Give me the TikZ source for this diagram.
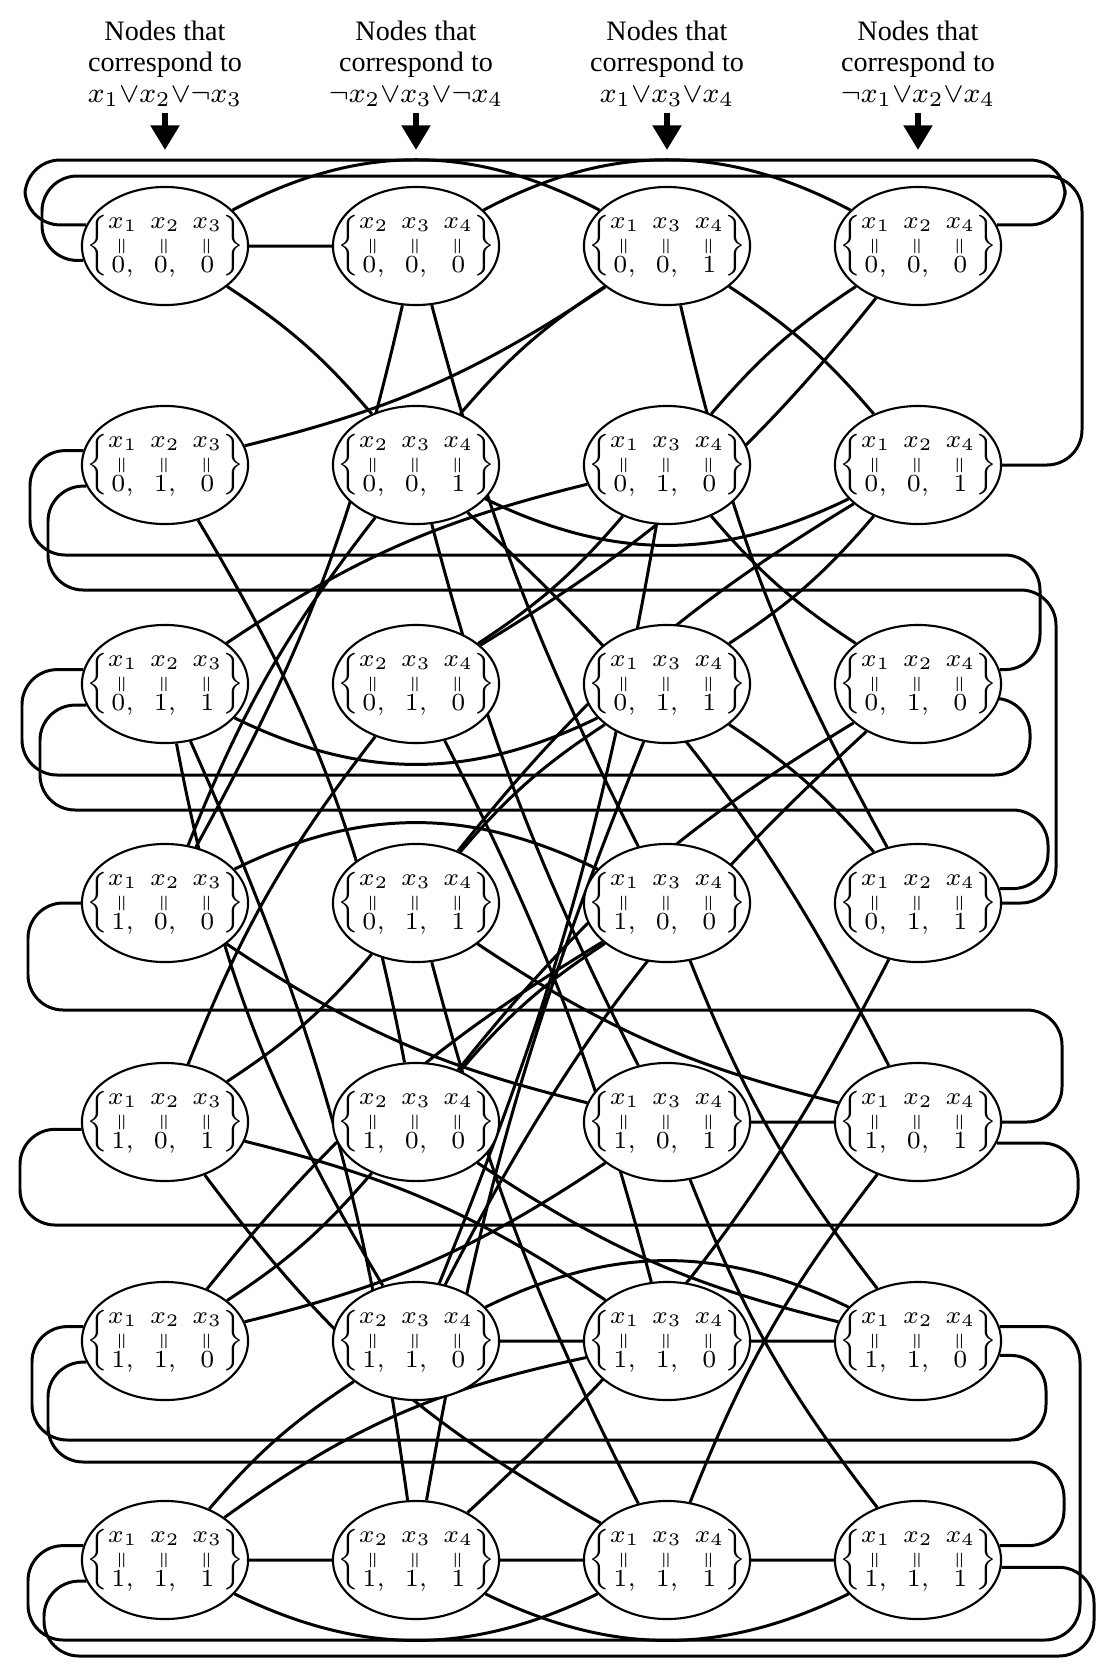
\documentclass[tikz,border=0pt]{standalone}
\usepackage{fontspec}
\setmainfont{Liberation Serif}
\usepackage{amsmath}
\usepackage{amssymb}
\usepackage{tikz}
\usetikzlibrary{shapes.geometric, arrows.meta, positioning, backgrounds}
\tikzstyle{val}     = [ellipse, draw, line width=0.6pt, fill=white,
                       minimum width=1.66cm, minimum height=1.18cm,
                       inner xsep=-0.25cm, inner ysep=0pt,
                       font=\fontsize{7.2}{8}\selectfont]
\tikzstyle{head}    = [align=center, inner sep=0pt, font=\fontsize{8}{8.8}\selectfont]
\tikzstyle{pointer} = [-{Triangle[width=8pt,length=7pt]}, line width=1.5pt]
\tikzstyle{link}    = [line width=0.85pt]
\tikzstyle{route}   = [link, rounded corners=10pt]
\newcommand{\iseq}{\rotatebox[origin=c]{90}{$\scriptstyle=$}}
\newcommand{\asg}[6]{$\renewcommand{\arraystretch}{0.78}\left\{\begin{array}{@{}c@{\hspace{3.6pt}}c@{\hspace{3.6pt}}c@{}}
  x_{#1} & x_{#2} & x_{#3}\\ \iseq & \iseq & \iseq\\ #4, & #5, & #6\end{array}\right\}$}

\begin{document}
\begin{tikzpicture}[x=0.01cm, y=0.01cm]
  \useasboundingbox (0,0) rectangle (1101,-1669);

  %% column x1 x2 x3
  \node[val] (a000) at (165,-246)  {\asg{1}{2}{3}{0}{0}{0}};
  \node[val] (a010) at (165,-465)  {\asg{1}{2}{3}{0}{1}{0}};
  \node[val] (a011) at (165,-684)  {\asg{1}{2}{3}{0}{1}{1}};
  \node[val] (a100) at (165,-903)  {\asg{1}{2}{3}{1}{0}{0}};
  \node[val] (a101) at (165,-1122) {\asg{1}{2}{3}{1}{0}{1}};
  \node[val] (a110) at (165,-1341) {\asg{1}{2}{3}{1}{1}{0}};
  \node[val] (a111) at (165,-1560) {\asg{1}{2}{3}{1}{1}{1}};

  %% column x2 x3 x4
  \node[val] (b000) at (416,-246)  {\asg{2}{3}{4}{0}{0}{0}};
  \node[val] (b001) at (416,-465)  {\asg{2}{3}{4}{0}{0}{1}};
  \node[val] (b010) at (416,-684)  {\asg{2}{3}{4}{0}{1}{0}};
  \node[val] (b011) at (416,-903)  {\asg{2}{3}{4}{0}{1}{1}};
  \node[val] (b100) at (416,-1122) {\asg{2}{3}{4}{1}{0}{0}};
  \node[val] (b110) at (416,-1341) {\asg{2}{3}{4}{1}{1}{0}};
  \node[val] (b111) at (416,-1560) {\asg{2}{3}{4}{1}{1}{1}};

  %% column x1 x3 x4
  \node[val] (c001) at (667,-246)  {\asg{1}{3}{4}{0}{0}{1}};
  \node[val] (c010) at (667,-465)  {\asg{1}{3}{4}{0}{1}{0}};
  \node[val] (c011) at (667,-684)  {\asg{1}{3}{4}{0}{1}{1}};
  \node[val] (c100) at (667,-903)  {\asg{1}{3}{4}{1}{0}{0}};
  \node[val] (c101) at (667,-1122) {\asg{1}{3}{4}{1}{0}{1}};
  \node[val] (c110) at (667,-1341) {\asg{1}{3}{4}{1}{1}{0}};
  \node[val] (c111) at (667,-1560) {\asg{1}{3}{4}{1}{1}{1}};

  %% column x1 x2 x4
  \node[val] (d000) at (918,-246)  {\asg{1}{2}{4}{0}{0}{0}};
  \node[val] (d001) at (918,-465)  {\asg{1}{2}{4}{0}{0}{1}};
  \node[val] (d010) at (918,-684)  {\asg{1}{2}{4}{0}{1}{0}};
  \node[val] (d011) at (918,-903)  {\asg{1}{2}{4}{0}{1}{1}};
  \node[val] (d101) at (918,-1122) {\asg{1}{2}{4}{1}{0}{1}};
  \node[val] (d110) at (918,-1341) {\asg{1}{2}{4}{1}{1}{0}};
  \node[val] (d111) at (918,-1560) {\asg{1}{2}{4}{1}{1}{1}};

  %% clause headings
  \node[head, above=0.79cm of a000] (ha) {Nodes that\\correspond to\\$x_1{\vee}x_2{\vee}{\neg}x_3$};
  \node[head, above=0.79cm of b000] (hb) {Nodes that\\correspond to\\${\neg}x_2{\vee}x_3{\vee}{\neg}x_4$};
  \node[head, above=0.79cm of c001] (hc) {Nodes that\\correspond to\\$x_1{\vee}x_3{\vee}x_4$};
  \node[head, above=0.79cm of d000] (hd) {Nodes that\\correspond to\\${\neg}x_1{\vee}x_2{\vee}x_4$};
  \draw[pointer] ([yshift=-0.06cm]ha.south) -- ([yshift=0.36cm]a000.north);
  \draw[pointer] ([yshift=-0.06cm]hb.south) -- ([yshift=0.36cm]b000.north);
  \draw[pointer] ([yshift=-0.06cm]hc.south) -- ([yshift=0.36cm]c001.north);
  \draw[pointer] ([yshift=-0.06cm]hd.south) -- ([yshift=0.36cm]d000.north);

  \begin{scope}[on background layer]
    %% x1 x2 x3 -- x2 x3 x4
    \draw[link] (a000) -- (b000) (a000) to[bend left=8] (b001) (a100) to[bend right=8] (b000)
      (a100) to[bend left=8] (b001) (a010) to[bend left=10] (b100) (a110) to[bend right=8] (b100)
      (a011) to[bend right=10] (b110) (a011) to[bend left=8] (b111) (a111) to[bend left=8] (b110)
      (a111) -- (b111) (a101) to[bend left=8] (b010) (a101) to[bend right=8] (b011);
    %% x1 x2 x3 -- x1 x3 x4
    \draw[link] (a000) to[bend left=28] (c001) (a010) to[bend right=10] (c001) (a011) to[bend left=10] (c010)
      (a011) to[bend right=26] (c011) (a100) to[bend left=26] (c100) (a100) to[bend right=10] (c101)
      (a110) to[bend left=10] (c100) (a110) to[bend right=10] (c101) (a101) to[bend left=10] (c110)
      (a101) to[bend right=12] (c111) (a111) to[bend left=12] (c110) (a111) to[bend right=26] (c111);
    %% x2 x3 x4 -- x1 x3 x4
    \draw[link] (b000) to[bend right=6] (c100) (b100) to[bend left=8] (c100) (b001) to[bend left=8] (c001)
      (b001) to[bend right=6] (c101) (b010) to[bend right=8] (c010) (b010) to[bend left=6] (c110)
      (b110) to[bend right=6] (c010) (b110) -- (c110) (b011) to[bend left=8] (c011)
      (b011) to[bend right=6] (c111) (b111) to[bend left=6] (c011) (b111) -- (c111);
    %% x2 x3 x4 -- x1 x2 x4
    \draw[link] (b000) to[bend left=28] (d000) (b010) to[bend right=10] (d000) (b001) to[bend right=26] (d001)
      (b001) to[bend left=10] (d101) (b011) to[bend left=10] (d001) (b011) to[bend right=10] (d101)
      (b100) to[bend left=10] (d010) (b100) to[bend right=10] (d110) (b110) to[bend left=10] (d010)
      (b110) to[bend left=26] (d110) (b111) to[bend right=10] (d011) (b111) to[bend right=26] (d111);
    %% x1 x3 x4 -- x1 x2 x4
    \draw[link] (c010) to[bend left=8] (d000) (c010) to[bend right=8] (d010) (c001) to[bend left=8] (d001)
      (c001) to[bend right=8] (d011) (c011) to[bend right=8] (d001) (c011) to[bend left=8] (d011)
      (c100) to[bend right=8] (d110) (c110) -- (d110) (c101) -- (d101)
      (c101) to[bend right=8] (d111) (c111) to[bend left=8] (d101) (c111) -- (d111);
    %% x1 x2 x3 -- x1 x2 x4, round the outside
    \draw[route] (a000.165) -| (25,-160) -- (1065,-160) |- (d000.15);
    \draw[route] (a000.190) -| (42,-176) -- (1082,-176) |- (d001.0);
    \draw[route] (a010.170) -| (30,-555) -- (1040,-555) |- (d010.10);
    \draw[route] (a010.195) -| (48,-590) -- (1056,-590) |- (d011.0);
    \draw[route] (a011.170) -| (22,-775) -- (1030,-775) |- (d010.-10);
    \draw[route] (a011.195) -| (40,-810) -- (1048,-810) |- (d011.10);
    \draw[route] (a100.180) -| (28,-1010) -- (1062,-1010) |- (d101.0);
    \draw[route] (a101.185) -| (20,-1225) -- (1078,-1225) |- (d101.-15);
    \draw[route] (a110.170) -| (32,-1440) -- (1046,-1440) |- (d110.-10);
    \draw[route] (a110.195) -| (48,-1462) -- (1064,-1462) |- (d111.10);
    \draw[route] (a111.170) -| (28,-1640) -- (1080,-1640) |- (d110.10);
    \draw[route] (a111.195) -| (44,-1656) -- (1094,-1656) |- (d111.-5);
  \end{scope}

\end{tikzpicture}
\end{document}
